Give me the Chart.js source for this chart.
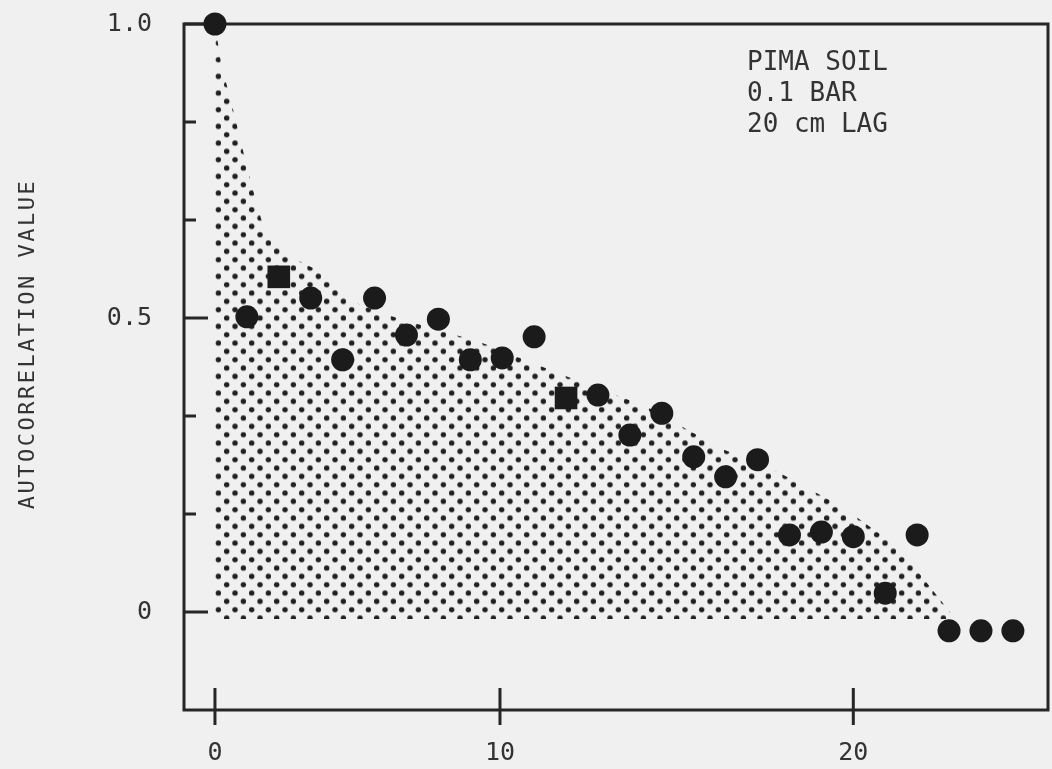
<!DOCTYPE html>
<html>
<head>
<meta charset="utf-8">
<script src="https://cdn.jsdelivr.net/npm/chart.js@4/dist/chart.umd.min.js"></script>
<style>
html, body { margin: 0; padding: 0; background: #f0f0f0; }
#wrap { width: 1052px; height: 769px; }
</style>
</head>
<body>
<div id="wrap"><canvas id="chart" width="1052" height="769"></canvas></div>
<script>
// Data
const lags = [0,1,2,3,4,5,6,7,8,9,10,11,12,13,14,15,16,17,18,19,20,21,22,23,24,25];
const autocorr = [1.0, 0.502, 0.570, 0.534, 0.429, 0.534, 0.471, 0.498, 0.429, 0.432,
                  0.468, 0.364, 0.369, 0.301, 0.338, 0.264, 0.230, 0.259, 0.131, 0.136,
                  0.128, 0.032, 0.131, -0.032, -0.032, -0.032];
const markerShapes = ['circle','circle','rect','circle','circle','circle','circle','circle','circle','circle',
                      'circle','rect','circle','circle','circle','circle','circle','circle','circle','circle',
                      'circle','circle','circle','circle','circle','circle'];

// upper edge of the dotted band
const envelopeLag = [0, 0.2, 0.5, 1.1, 1.5, 2.26, 3.07, 4.54, 5.7, 8.3, 10.9, 13.53, 15.82, 17.64, 19.64, 21.4, 23.18];
const envelopeVal = [1.0, 0.93, 0.87, 0.735, 0.658, 0.607, 0.585, 0.522, 0.5, 0.459, 0.403, 0.349, 0.279, 0.238, 0.179, 0.111, -0.01];
const envelopeBase = -0.012;

const yTicks = [0, 1/6, 2/6, 0.5, 4/6, 5/6, 1.0];
const yTickLabels = ['0', '', '', '0.5', '', '', '1.0'];
const xTicks = [0, 8.93, 20];
const xTickLabels = ['0', '10', '20'];

const yTitle = 'AUTOCORRELATION VALUE';
const noteLines = ['PIMA SOIL', '0.1 BAR', '20 cm LAG'];

const INK = '#262626';
const MONO = '"DejaVu Sans Mono", monospace';

// dot screen pattern
function makeDots() {
    const c = document.createElement('canvas');
    c.width = 50; c.height = 50;
    const g = c.getContext('2d');
    const step = 50 / 3;
    g.fillStyle = '#202020';
    for (let i = 0; i < 3; i++) {
        for (let j = 0; j < 3; j++) {
            [[4, 4], [4 + step / 2, 4 + step / 2]].forEach(([ox, oy]) => {
                g.beginPath();
                g.arc(ox + i * step, oy + j * step, 2.7, 0, Math.PI * 2);
                g.fill();
            });
        }
    }
    const p = document.getElementById('chart').getContext('2d').createPattern(c, 'repeat');
    p.setTransform(new DOMMatrix([1, 0, 0, 1, 6, -2.67]));
    return p;
}

// box + tick marks
const framePlugin = {
    id: 'frame',
    beforeDatasetsDraw(chart) {
        const ctx = chart.ctx, a = chart.chartArea;
        const xs = chart.scales.x, ys = chart.scales.y;
        ctx.save();
        ctx.strokeStyle = INK;
        ctx.lineWidth = 3;
        ctx.strokeRect(a.left, a.top, a.right - a.left, a.bottom - a.top);
        yTicks.forEach((v, i) => {
            const y = ys.getPixelForValue(v);
            const len = yTickLabels[i] ? 24 : 12;
            ctx.beginPath();
            ctx.moveTo(a.left, y);
            ctx.lineTo(a.left + len, y);
            ctx.stroke();
        });
        xTicks.forEach(v => {
            const x = xs.getPixelForValue(v);
            ctx.beginPath();
            ctx.moveTo(x, a.bottom - 22);
            ctx.lineTo(x, a.bottom + 15);
            ctx.stroke();
        });
        ctx.restore();
    }
};

// axis title and the note in the corner
const textPlugin = {
    id: 'texts',
    afterDraw(chart) {
        const ctx = chart.ctx;
        ctx.save();
        ctx.fillStyle = '#333';
        ctx.font = '26px ' + MONO;
        ctx.textAlign = 'left';
        ctx.textBaseline = 'alphabetic';
        noteLines.forEach((t, i) => ctx.fillText(t, 747, 70 + i * 31));

        ctx.translate(28, 344);
        ctx.rotate(-Math.PI / 2);
        ctx.font = '22px ' + MONO;
        ctx.letterSpacing = '2.5px';
        ctx.textAlign = 'center';
        ctx.textBaseline = 'middle';
        ctx.fillText(yTitle, 0, 0);
        ctx.restore();
    }
};

function noPad(s) {
    s.paddingTop = 0; s.paddingBottom = 0;
    s.paddingLeft = 0; s.paddingRight = 0;
}

new Chart(document.getElementById('chart'), {
    type: 'line',
    data: {
        datasets: [{
            label: 'autocorrelation',
            data: lags.map((l, i) => ({ x: l, y: autocorr[i] })),
            showLine: false,
            pointStyle: markerShapes,
            pointRadius: markerShapes.map(s => s === 'rect' ? 16 : 11.5),
            pointBackgroundColor: '#1b1b1b',
            pointBorderColor: '#1b1b1b',
            pointBorderWidth: 0,
            clip: false,
            order: 0
        }, {
            label: 'envelope',
            data: envelopeLag.map((l, i) => ({ x: l, y: envelopeVal[i] })),
            fill: { value: envelopeBase },
            backgroundColor: makeDots(),
            borderWidth: 0,
            pointRadius: 0,
            tension: 0,
            order: 1
        }]
    },
    options: {
        responsive: false,
        devicePixelRatio: 1,
        animation: false,
        layout: { autoPadding: false, padding: { top: 24, right: 4, left: 0, bottom: 0 } },
        plugins: { legend: { display: false }, tooltip: { enabled: false } },
        scales: {
            x: {
                type: 'linear',
                min: -0.97,
                max: 26.1,
                grid: { display: false, drawTicks: false },
                border: { display: false },
                ticks: {
                    color: '#333',
                    font: { family: MONO, size: 25 },
                    padding: 28,
                    maxRotation: 0,
                    autoSkip: false,
                    callback: v => xTickLabels[xTicks.indexOf(v)]
                },
                afterBuildTicks: s => { s.ticks = xTicks.map(v => ({ value: v })); },
                afterFit: s => { s.height = 59; noPad(s); }
            },
            y: {
                type: 'linear',
                min: -1/6,
                max: 1,
                grid: { display: false, drawTicks: false },
                border: { display: false },
                ticks: {
                    color: '#333',
                    font: { family: MONO, size: 25 },
                    padding: 32,
                    autoSkip: false,
                    callback: v => yTickLabels[yTicks.indexOf(v)]
                },
                afterBuildTicks: s => { s.ticks = yTicks.map(v => ({ value: v })); },
                afterFit: s => { s.width = 184; noPad(s); }
            }
        }
    },
    plugins: [framePlugin, textPlugin]
});
</script>
</body>
</html>
